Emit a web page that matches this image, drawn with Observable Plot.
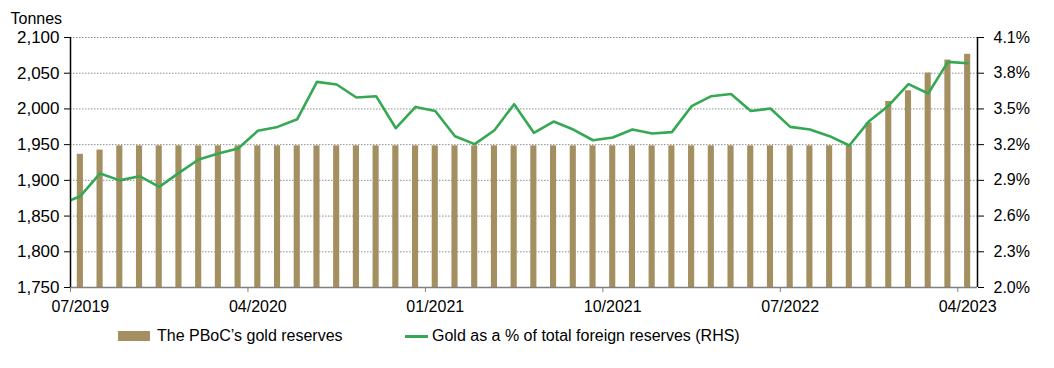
<!DOCTYPE html>
<html><head><meta charset="utf-8">
<script src="https://cdn.jsdelivr.net/npm/d3@7"></script>
<script src="https://cdn.jsdelivr.net/npm/@observablehq/plot@0.6"></script>
<style>
body{margin:0;background:#fff;font-family:"Liberation Sans",Arial,sans-serif;color:#000;}
#wrap{position:relative;width:1054px;height:368px;}
#legend{position:absolute;left:0;top:320px;width:1054px;height:40px;font-size:16px;}
.sw{position:absolute;}
.lt{position:absolute;top:7px;white-space:nowrap;line-height:18px;}
</style></head><body>
<div id="wrap"><div id="chart"></div><div id="legend"></div></div>
<script>
const months = ["07/2019","08/2019","09/2019","10/2019","11/2019","12/2019",
"01/2020","02/2020","03/2020","04/2020","05/2020","06/2020","07/2020","08/2020","09/2020","10/2020","11/2020","12/2020",
"01/2021","02/2021","03/2021","04/2021","05/2021","06/2021","07/2021","08/2021","09/2021","10/2021","11/2021","12/2021",
"01/2022","02/2022","03/2022","04/2022","05/2022","06/2022","07/2022","08/2022","09/2022","10/2022","11/2022","12/2022",
"01/2023","02/2023","03/2023","04/2023"];
const goldTonnes = [1936.5,1942.4,1948.3,1948.3,1948.3,1948.3,
1948.3,1948.3,1948.3,1948.3,1948.3,1948.3,1948.3,1948.3,1948.3,1948.3,1948.3,1948.3,
1948.3,1948.3,1948.3,1948.3,1948.3,1948.3,1948.3,1948.3,1948.3,1948.3,1948.3,1948.3,
1948.3,1948.3,1948.3,1948.3,1948.3,1948.3,1948.3,1948.3,1948.3,1948.3,1980.4,2010.5,
2025.4,2050.3,2068.4,2076.5];
const goldPct = [2.767,2.958,2.900,2.935,2.845,2.963,
3.075,3.125,3.167,3.316,3.349,3.414,3.727,3.705,3.596,3.607,3.338,3.517,
3.483,3.271,3.204,3.321,3.540,3.299,3.394,3.327,3.237,3.260,3.327,3.294,
3.305,3.523,3.607,3.626,3.483,3.503,3.349,3.327,3.271,3.193,3.397,3.529,
3.708,3.630,3.895,3.884];
const pctPriorMonth = 2.70; // 06/2019, partly visible at the left edge
const leftTicks = [1750,1800,1850,1900,1950,2000,2050,2100];
const rightTicks = [2.0,2.3,2.6,2.9,3.2,3.5,3.8,4.1];
const xTickLabels = ["07/2019","04/2020","01/2021","10/2021","07/2022","04/2023"];
const seriesNames = ["The PBoC\u2019s gold reserves","Gold as a % of total foreign reserves (RHS)"];
const barColor = "#a38f60", lineColor = "#34a853";

const pctToT = d3.scaleLinear().domain([rightTicks[0], rightTicks[rightTicks.length-1]])
  .range([leftTicks[0], leftTicks[leftTicks.length-1]]);
const bars = months.map((m,i)=>({i, m, v: goldTonnes[i]}));
const line = [{i:-1, p:pctPriorMonth}, ...goldPct.map((p,i)=>({i, p}))];
const xTicks = xTickLabels.map(l => months.indexOf(l));

const chart = Plot.plot({
  width:1054, height:320, marginLeft:70, marginRight:77, marginTop:37, marginBottom:33,
  style:{fontFamily:"'Liberation Sans', Arial, sans-serif", fontSize:"16px", color:"#000", background:"#fff"},
  x:{domain:[0, months.length]},
  y:{domain:[leftTicks[0], leftTicks[leftTicks.length-1]]},
  marks:[
    Plot.gridY(leftTicks.slice(1), {stroke:"#8c8c8c", strokeOpacity:1, strokeDasharray:"1.5,1.5"}),
    Plot.rectY(bars, {x:"i", interval:1, y:"v", insetLeft:6.8, insetRight:6.8, fill:barColor, clip:true}),
    Plot.line(line, {x:d=>d.i+0.5, y:d=>pctToT(d.p), stroke:lineColor, strokeWidth:2.6, clip:true}),
    Plot.ruleY([leftTicks[0]], {stroke:"#808080", strokeWidth:1.3}),
    Plot.ruleX([0], {stroke:"#000", strokeWidth:1.5}),
    Plot.ruleX([months.length], {stroke:"#000", strokeWidth:1.5}),
    Plot.axisY(leftTicks, {anchor:"left", tickFormat:d3.format(","), tickSize:6, tickPadding:5, fontSize:17, label:null, stroke:"#000"}),
    Plot.axisY(rightTicks.map(pctToT), {anchor:"right", tickFormat:t=>pctToT.invert(t).toFixed(1)+"%", tickSize:6, tickPadding:10, fontSize:16, label:null, stroke:"#000"}),
    Plot.axisX(xTicks, {tickFormat:null, text:null, tickSize:5, label:null, stroke:"#808080"}),
    Plot.axisX(xTicks.map(t=>t+0.5), {tickFormat:(d,i)=>xTickLabels[i], tickSize:0, tickPadding:13, fontSize:16, label:null}),
    Plot.text(["Tonnes"], {frameAnchor:"top-left", dx:-60, dy:-25, textAnchor:"start", fontSize:16, fill:"#000"})
  ]
});
document.getElementById("chart").appendChild(chart);

const lg = document.getElementById("legend");
lg.innerHTML =
  `<div class="sw" style="left:118px;top:11px;width:32px;height:10px;background:${barColor}"></div>` +
  `<div class="lt" style="left:157px">${seriesNames[0]}</div>` +
  `<div class="sw" style="left:405px;top:15px;width:23px;height:3px;background:${lineColor}"></div>` +
  `<div class="lt" style="left:432px">${seriesNames[1]}</div>`;
</script>
</body></html>
